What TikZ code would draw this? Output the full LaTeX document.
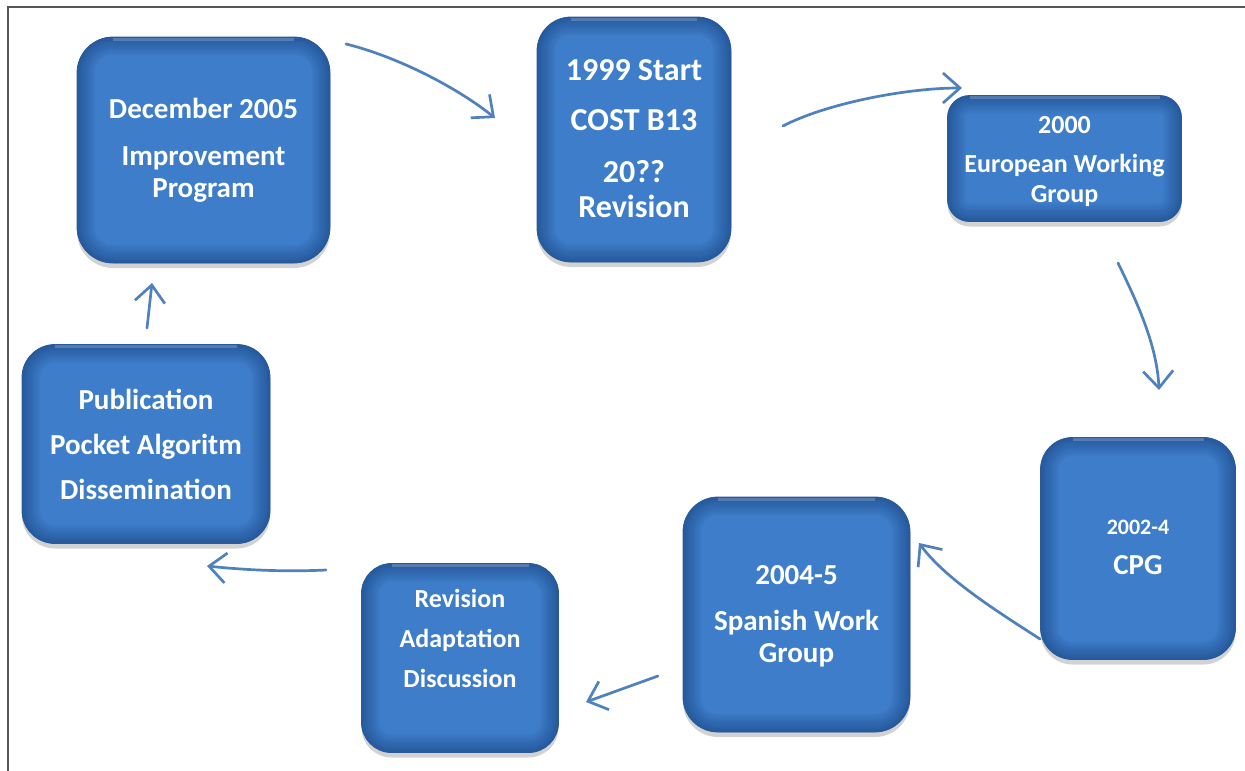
\documentclass[tikz,border=0pt]{standalone}
\usepackage{fontspec}
\setmainfont{Carlito}
\usetikzlibrary{arrows.meta,shadows,calc}
\definecolor{bxfill}{HTML}{3E7DCA}
\definecolor{bxdark}{HTML}{16407A}
\definecolor{bxline}{HTML}{2A5A9A}
\definecolor{arrc}{HTML}{4F81BD}
\definecolor{framec}{HTML}{555555}
\tikzset{
  box/.style={rounded corners=#1, fill=bxfill, draw=bxline, line width=0.8pt,
    drop shadow={shadow xshift=0pt, shadow yshift=-5pt, opacity=0.35},
    inner sep=0pt,
    path picture={
      \foreach \w in {36,32,28,24,20,16,12,9,6,3}
        \draw[bxdark, opacity=0.07, line width=\w pt, rounded corners=#1]
          (path picture bounding box.south west) rectangle (path picture bounding box.north east);
      \draw[white, opacity=0.2, line width=3pt]
          ([yshift=-2pt,xshift=#1]path picture bounding box.north west) -- ([yshift=-2pt,xshift=-#1]path picture bounding box.north east);
    }},
  txt/.style={text=white, align=center, inner sep=0pt},
  arr/.style={draw=arrc, line width=2.7pt, line cap=round, -{Straight Barb[length=17pt,width=30pt]}},
}
\begin{document}
\begin{tikzpicture}[x=1pt,y=-1pt]
\useasboundingbox (0,0) rectangle (1245,771);
\fill[white] (0,0) rectangle (1245,771);
% frame
\draw[framec, line width=2pt] (8,771) -- (8,7) -- (1245,7);

% boxes
\node[box=36, minimum width=253pt, minimum height=226pt] (b1) at (203.5,150) {};
\node[box=34, minimum width=194pt, minimum height=245pt] (b2) at (634,139.5) {};
\node[box=22, minimum width=234pt, minimum height=126pt] (b3) at (1064.5,158.5) {};
\node[box=32, minimum width=195pt, minimum height=222pt] (b4) at (1138,548.5) {};
\node[box=35, minimum width=227pt, minimum height=235pt] (b5) at (796.5,614.5) {};
\node[box=30, minimum width=197pt, minimum height=189pt] (b6) at (460,658) {};
\node[box=33, minimum width=248pt, minimum height=199pt] (b7) at (146,444) {};

% texts
\node[txt, font=\bfseries\fontsize{29}{32}\selectfont] (t1) at ($(b1)+(0,0)$)
  {December 2005\\[15pt]Improvement\\Program};
\node[txt, font=\bfseries\fontsize{32}{35}\selectfont] (t2) at ($(b2)+(0,-1)$)
  {1999 Start\\[15pt]COST B13\\[17pt]20??\\Revision};
\node[txt, font=\bfseries\fontsize{26}{30}\selectfont] (t3) at ($(b3)+(0,3)$)
  {2000\\[9pt]European Working\\Group};
\node[txt, font=\bfseries\fontsize{29}{32}\selectfont] (t4) at ($(b4)+(0,-1)$)
  {{\fontsize{22}{25}\selectfont 2002-4}\\[8pt]CPG};
\node[txt, font=\bfseries\fontsize{29}{32}\selectfont] (t5) at ($(b5)+(0,2)$)
  {2004-5\\[14pt]Spanish Work\\Group};
\node[txt, font=\bfseries\fontsize{26}{29}\selectfont] (t6) at ($(b6)+(0,-20)$)
  {Revision\\[11pt]Adaptation\\[11pt]Discussion};
\node[txt, font=\bfseries\fontsize{29}{33}\selectfont] (t7) at ($(b7)+(0,0)$)
  {Publication\\[12pt]Pocket Algoritm\\[12pt]Dissemination};

% arrow end points
\coordinate (a1s) at (346,44);   \coordinate (a1e) at (495,118);
\coordinate (a2s) at (783,126);  \coordinate (a2e) at (962,88);
\coordinate (a3s) at (1118,263); \coordinate (a3e) at (1159,390);
\coordinate (a4s) at (1040,639); \coordinate (a4e) at (919,543);
\coordinate (a5s) at (658,676);  \coordinate (a5e) at (586,702);
\coordinate (a6s) at (326,570);  \coordinate (a6e) at (207,566);
\coordinate (a7s) at (147,328);  \coordinate (a7e) at (152,283);

% arrows
\draw[arr] (a1s) .. controls (395,56) and (455,86) .. (a1e);
\draw[arr] (a2s) .. controls (825,104) and (905,88) .. (a2e);
\draw[arr] (a3s) .. controls (1137,302) and (1157,345) .. (a3e);
\draw[arr] (a4s) .. controls (1003,615) and (946,580) .. (a4e);
\draw[arr] (a5s) -- (a5e);
\draw[arr] (a6s) .. controls (285,572) and (245,570) .. (a6e);
\draw[arr] (a7s) -- (a7e);
\end{tikzpicture}
\end{document}
